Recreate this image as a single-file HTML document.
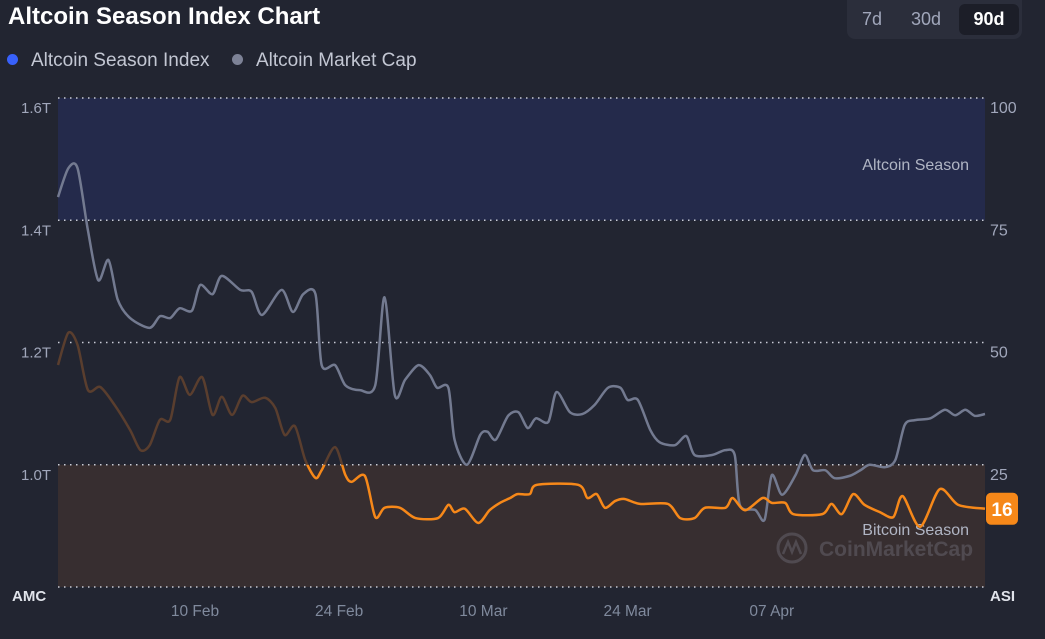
<!DOCTYPE html>
<html><head><meta charset="utf-8">
<style>
body{margin:0;background:#222531;width:1045px;height:639px;overflow:hidden;font-family:"Liberation Sans",sans-serif;}
#title{position:absolute;left:8px;top:3px;color:#fff;font-size:24px;font-weight:bold;}
#range{position:absolute;left:847px;top:0;width:175px;height:39px;background:#2b2e3b;border-radius:0 0 8px 8px;}
.btn{position:absolute;top:4px;height:31px;line-height:31px;font-size:18px;color:#a1a7bb;text-align:center;border-radius:6px;}
.legend{position:absolute;top:50px;font-size:19px;color:#c3c7d3;}
.dot{display:inline-block;width:11px;height:11px;border-radius:6px;margin-right:13px;vertical-align:1px;}
</style></head><body>
<div id="title">Altcoin Season Index Chart</div>
<div id="range">
<div class="btn" style="left:4px;width:42px">7d</div>
<div class="btn" style="left:50px;width:58px">30d</div>
<div class="btn" style="left:112px;width:60px;background:#1c1e28;color:#fff;font-weight:bold">90d</div>
</div>
<div class="legend" style="left:7px"><span class="dot" style="background:#3861fb"></span>Altcoin Season Index</div>
<div class="legend" style="left:232px"><span class="dot" style="background:#7d8296"></span>Altcoin Market Cap</div>
<svg id="chart" width="1045" height="639" style="position:absolute;left:0;top:0"></svg>
<script>
const amcDays=[0,1.0,1.9,2.9,3.9,4.9,5.8,7.0,8.9,9.9,10.9,11.8,13.0,13.8,15.0,15.9,17.7,18.8,19.8,21.7,22.8,23.8,25.0,25.6,26.9,27.9,29.3,30.8,31.7,32.7,33.7,35.0,36.1,36.8,37.9,38.5,39.7,41.0,41.7,42.5,43.7,44.7,45.6,46.4,47.6,48.4,49.7,50.9,52.1,53.4,54.6,55.3,56.3,57.5,58.4,59.9,61.0,61.8,63.5,64.8,65.7,66.2,67.7,68.6,69.3,70.3,71.6,72.5,73.3,74.5,75.4,76.9,77.9,78.8,80.3,81.3,82.2,83.2,84.7,86.1,87.1,88.1,89.0,90];
const amcValues=[1.438,1.485,1.485,1.384,1.302,1.335,1.270,1.240,1.224,1.243,1.240,1.256,1.252,1.294,1.279,1.309,1.286,1.283,1.245,1.286,1.250,1.279,1.279,1.163,1.163,1.130,1.122,1.130,1.274,1.114,1.139,1.163,1.147,1.126,1.126,1.041,1.000,1.049,1.054,1.041,1.080,1.086,1.060,1.076,1.070,1.119,1.086,1.083,1.098,1.126,1.126,1.106,1.106,1.057,1.037,1.032,1.047,1.016,1.016,1.024,1.016,0.934,0.926,0.910,0.983,0.951,0.983,1.016,0.991,0.991,0.978,0.982,0.991,1.000,0.996,1.008,1.065,1.073,1.076,1.090,1.081,1.090,1.080,1.083];
const asiDays=[0,1.0,1.9,2.9,4.1,5.5,7.0,8.0,8.9,9.9,10.9,11.8,12.8,14.0,15.0,15.9,16.9,17.9,18.8,20.1,21.1,22.0,23.0,24.0,25.0,25.6,26.9,27.9,28.5,29.8,30.8,31.7,33.2,34.7,36.9,37.9,38.5,39.5,40.8,41.9,42.9,43.9,44.6,45.8,46.5,50.5,51.4,52.3,53.1,54.1,55.0,56.5,59.2,60.4,61.8,62.8,64.8,65.5,66.7,68.4,69.3,70.6,71.4,74.2,75.1,76.1,77.2,78.3,79.8,81.1,82.0,83.7,85.6,87.4,90];
const asiValues=[45.4,52.0,49.5,40.3,40.9,37.2,32.1,28.0,29.0,34.2,34.2,42.9,39.3,42.9,35.2,38.9,35.2,39.1,37.8,38.7,36.6,31.1,32.9,26.0,22.3,23.9,28.6,22.9,21.5,22.7,14.3,16.2,16.2,14.1,14.1,16.8,15.3,16.0,13.1,15.7,17.2,18.2,19.0,19.0,20.9,20.9,18.2,19.0,16.2,17.6,18.0,17.0,17.0,14.1,14.1,16.2,16.2,18.2,15.7,18.2,17.2,17.2,14.9,14.9,17.0,14.9,19.0,16.8,15.3,14.3,18.6,12.3,20.0,16.8,16.0];
const amcTicks=["1.6T","1.4T","1.2T","1.0T"];
const asiTicks=[100,75,50,25];
const xLabels=["10 Feb","24 Feb","10 Mar","24 Mar","07 Apr"];
const xLabelDays=[13.3,27.3,41.3,55.3,69.3];
const currentAsi=16;

const NS="http://www.w3.org/2000/svg";
const svg=document.getElementById('chart');
const X0=58,X1=985,YT=98,YB=587;
const xs=d=>X0+d/90*(X1-X0);
const yA=v=>YB-(v-0.8)/0.8*(YB-YT);
const yI=v=>YB-v/100*(YB-YT);
function mk(tag,attrs,parent){const e=document.createElementNS(NS,tag);for(const k in attrs)e.setAttribute(k,attrs[k]);(parent||svg).appendChild(e);return e;}
function smooth(pts){let d="M"+pts[0][0]+","+pts[0][1];for(let i=0;i<pts.length-1;i++){const p0=pts[i-1]||pts[i],p1=pts[i],p2=pts[i+1],p3=pts[i+2]||p2;const t=0.14;d+=" C"+(p1[0]+(p2[0]-p0[0])*t)+","+(p1[1]+(p2[1]-p0[1])*t)+" "+(p2[0]-(p3[0]-p1[0])*t)+","+(p2[1]-(p3[1]-p1[1])*t)+" "+p2[0]+","+p2[1];}return d;}

const defs=mk('defs',{});
const c1=mk('clipPath',{id:'below'},defs);mk('rect',{x:0,y:yI(25),width:1045,height:639},c1);
const c2=mk('clipPath',{id:'above'},defs);mk('rect',{x:0,y:0,width:1045,height:yI(25)},c2);

let e=mk('rect',{x:X0,y:yI(100),width:X1-X0,height:yI(75)-yI(100),fill:'#242a4b'});

e=mk('rect',{x:X0,y:yI(25),width:X1-X0,height:yI(0)-yI(25),fill:'#372e30'});


asiTicks.forEach((t,i)=>{
 const y=yI(t);
 let g=mk('line',{x1:X0,x2:X1,y1:y,y2:y,stroke:'#c9ccd6','stroke-width':1.5,'stroke-dasharray':'1.5 4.5'});
 
 let l=mk('text',{x:51,y:y+15,fill:'#a1a7bb','font-size':15,'text-anchor':'end'});l.textContent=amcTicks[i];
 
 let r=mk('text',{x:990,y:y+15,fill:'#a1a7bb','font-size':16});r.textContent=t;
 
});
e=mk('line',{x1:X0,x2:X1,y1:YB,y2:YB,stroke:'#c9ccd6','stroke-width':1.5,'stroke-dasharray':'1.5 4.5'});


e=mk('text',{x:969,y:170,fill:'#b0b5c4','font-size':16,'text-anchor':'end'});e.textContent='Altcoin Season';

e=mk('text',{x:969,y:535,fill:'#b0b5c4','font-size':16,'text-anchor':'end'});e.textContent='Bitcoin Season';

e=mk('g',{opacity:0.25});
mk('circle',{cx:792,cy:548,r:14,fill:'none',stroke:'#9aa0b0','stroke-width':3},e);
mk('path',{d:'M783,554 L788,542 L792,552 L796,542 L801,554',fill:'none',stroke:'#9aa0b0','stroke-width':2.5},e);
let wt=mk('text',{x:819,y:556,fill:'#9aa0b0','font-size':21,'font-weight':'bold'},e);wt.textContent='CoinMarketCap';

const amcPts=amcDays.map((d,i)=>[xs(d),yA(amcValues[i])]);
e=mk('path',{d:smooth(amcPts),fill:'none',stroke:'#737a90','stroke-width':2.5});


const asiPts=asiDays.map((d,i)=>[xs(d),yI(asiValues[i])]);
const asiD=smooth(asiPts);
e=mk('path',{d:asiD,fill:'none',stroke:'#5a3e2e','stroke-width':2.5,'clip-path':'url(#above)'});

e=mk('path',{d:asiD,fill:'none',stroke:'#f68819','stroke-width':2.5,'clip-path':'url(#below)'});


const by=yI(currentAsi);
e=mk('rect',{x:986,y:by-16,width:32,height:32,rx:5,fill:'#f68819'});

e=mk('text',{x:1002,y:by+7,fill:'#fff','font-size':19,'font-weight':'bold','text-anchor':'middle'});e.textContent=currentAsi;


xLabels.forEach((t,i)=>{let l=mk('text',{x:xs(xLabelDays[i]),y:616,fill:'#808a9d','font-size':15.5,'text-anchor':'middle'});l.textContent=t;
 });
e=mk('text',{x:12,y:601,fill:'#e0e3ea','font-size':15,'font-weight':'bold'});e.textContent='AMC';

e=mk('text',{x:990,y:601,fill:'#e0e3ea','font-size':15,'font-weight':'bold'});e.textContent='ASI';

</script>
</body></html>
